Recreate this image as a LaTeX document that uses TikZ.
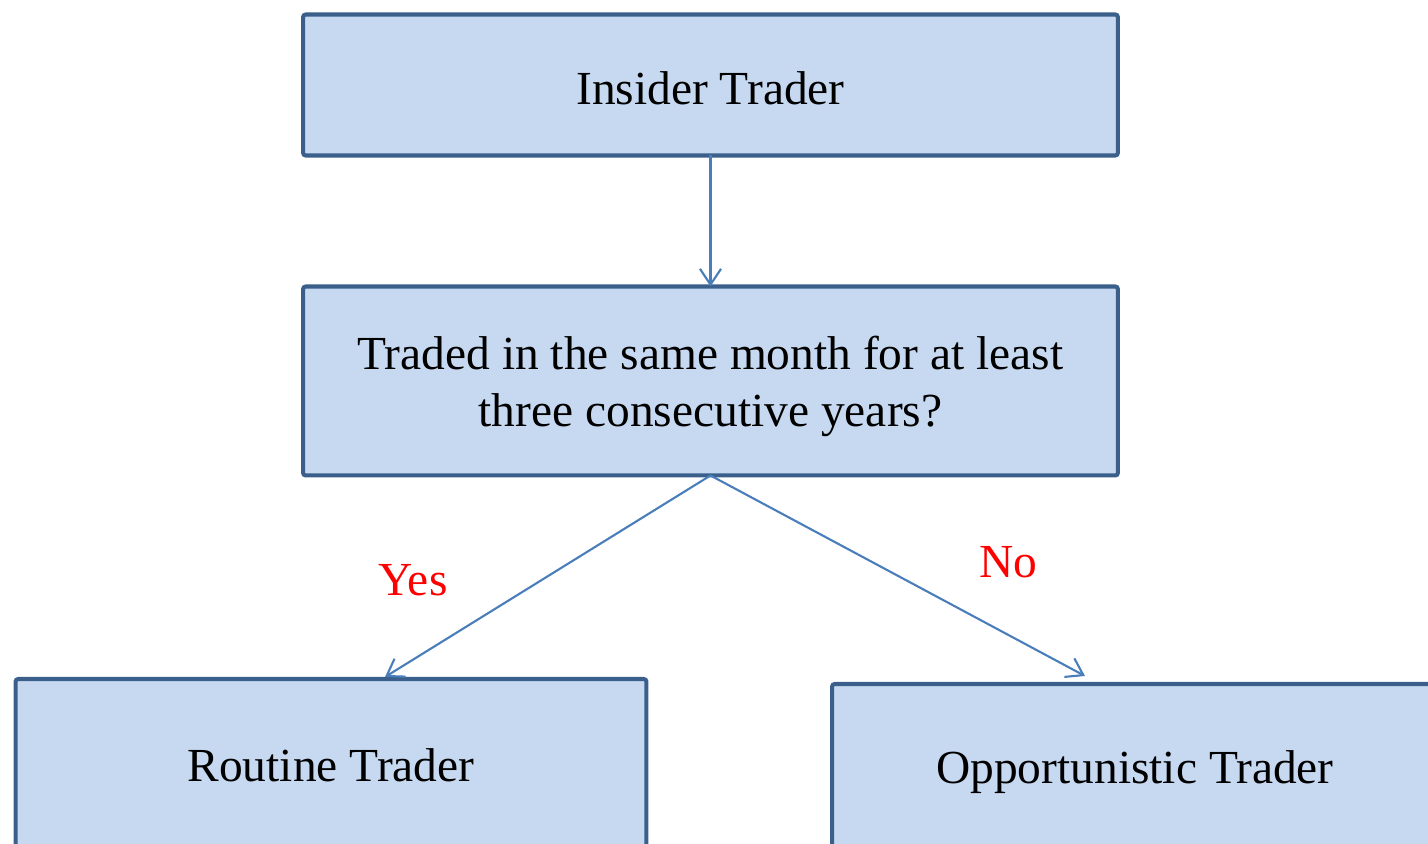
\documentclass[tikz,border=0pt]{standalone}
\usepackage{fontspec}
\setmainfont{Liberation Serif}
\usetikzlibrary{arrows.meta}
\definecolor{boxfill}{HTML}{C6D9F1}
\definecolor{boxline}{HTML}{3A5F8B}
\definecolor{arrowcol}{HTML}{4A7EBB}
\newcommand\topstrut[1]{\rule{0pt}{#1}}
\tikzset{
  box/.style={draw=boxline, fill=boxfill, line width=2.3pt, rounded corners=1.5pt,
    inner sep=0pt, outer sep=0pt, align=center,
    font=\fontsize{27}{32.4}\selectfont},
  conn/.style={draw=arrowcol, line width=1.2pt, -{Straight Barb[length=9pt,width=12pt]}},
  lbl/.style={text=red, font=\fontsize{27}{32.4}\selectfont, inner sep=0pt}
}
\begin{document}
\begin{tikzpicture}[x=0.02cm,y=-0.02cm]
\useasboundingbox (0,0) rectangle (1428,844);
\clip (0,0) rectangle (1428,844);
\node[box, minimum width=16.30cm, minimum height=2.82cm] (top) at (710.5,85) {\topstrut{22pt}Insider Trader};
\node[box, minimum width=16.30cm, minimum height=3.78cm] (mid) at (710.5,381) {\topstrut{25.4pt}Traded in the same month for at least\\three consecutive years?};
\node[box, minimum width=12.62cm, minimum height=3.44cm] (left) at (331,765) {Routine Trader};
\node[box, minimum width=12.12cm, minimum height=3.36cm] (right) at (1135,768) {\topstrut{23pt}Opportunistic Trader};
\coordinate (ya) at (385,677);
\coordinate (na) at (1085,676);
\draw[conn] (top.south) -- (mid.north);
\draw[conn] (mid.south) -- (ya);
\draw[conn] (mid.south) -- (na);
\node[lbl] (yes) at (413,580) {Yes};
\node[lbl] (no) at (1008,562) {No};
\end{tikzpicture}
\end{document}
